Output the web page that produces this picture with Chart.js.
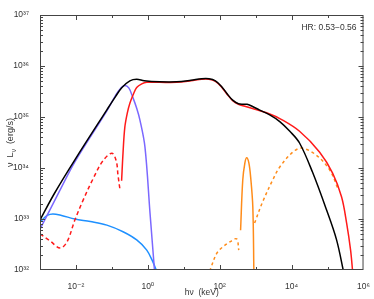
<!DOCTYPE html>
<html>
<head>
<meta charset="utf-8">
<script src="https://cdn.jsdelivr.net/npm/chart.js@4.4.0/dist/chart.umd.min.js"></script>
<style>
  html, body { margin: 0; padding: 0; background: #fff; }
  #wrap { width: 374px; height: 299px; position: relative; }
</style>
</head>
<body>
<div id="wrap"><canvas id="sedChart"></canvas></div>
<script>
// values: log10(h nu / keV) and log10(nu L_nu / erg s^-1)
var totalLogE = [-3.0, -2.6, -2.03, -1.14, -0.9, -0.72, -0.5, -0.31, -0.1, 0.33, 0.8, 1.2, 1.5, 1.7, 1.88, 2.05, 2.2, 2.36, 2.52, 2.65, 2.76, 2.9, 3.1, 3.39, 3.67, 3.95, 4.22, 4.58, 4.97, 5.25, 5.45];
var totalLogL = [32.98, 33.5, 34.16, 35.14, 35.4, 35.58, 35.71, 35.74, 35.71, 35.69, 35.69, 35.72, 35.75, 35.75, 35.71, 35.6, 35.46, 35.33, 35.26, 35.25, 35.25, 35.21, 35.14, 35.04, 34.91, 34.72, 34.49, 33.92, 33.18, 32.59, 31.95];

var reflLogE = [-0.73, -0.69, -0.64, -0.57, -0.5, -0.4, -0.31, -0.17, -0.03, 0.33, 0.8, 1.2, 1.5, 1.7, 1.88, 2.05, 2.2, 2.36, 2.52, 2.7, 3.03, 3.39, 3.67, 4.22, 4.78, 5.14, 5.39, 5.53, 5.64, 5.7];
var reflLogL = [33.75, 34.3, 34.8, 35.08, 35.27, 35.45, 35.58, 35.65, 35.68, 35.68, 35.68, 35.71, 35.74, 35.74, 35.7, 35.59, 35.45, 35.32, 35.25, 35.21, 35.14, 35.06, 34.97, 34.72, 34.31, 33.9, 33.43, 32.92, 32.39, 31.95];

var reflLowLogE = [-3.0, -2.72, -2.44, -2.25, -2.03, -1.8, -1.53, -1.25, -1.0, -0.88, -0.83, -0.78];
var reflLowLogL = [32.71, 32.57, 32.43, 32.55, 32.98, 33.37, 33.78, 34.14, 34.29, 34.14, 33.86, 33.6];

var diskLogE = [-3.0, -2.44, -2.03, -1.14, -0.9, -0.75, -0.64, -0.53, -0.42, -0.31, -0.22, -0.08, 0.06, 0.19];
var diskLogL = [32.8, 33.57, 34.12, 35.12, 35.42, 35.57, 35.62, 35.57, 35.39, 35.17, 34.94, 34.41, 33.12, 31.95];

var hostLogE = [-3.0, -2.8, -2.64, -2.4, -2.03, -1.6, -1.14, -0.69, -0.31, -0.03, 0.14, 0.25];
var hostLogL = [32.94, 33.07, 33.1, 33.07, 33.0, 32.95, 32.88, 32.75, 32.59, 32.39, 32.16, 31.97];

var jetLowLogE = [1.72, 1.92, 2.08, 2.28, 2.47, 2.53];
var jetLowLogL = [31.98, 32.33, 32.45, 32.55, 32.61, 32.39];

var lineLogE = [2.58, 2.64, 2.7, 2.75, 2.81, 2.86, 2.92, 2.95];
var lineLogL = [32.78, 33.76, 34.1, 34.2, 34.1, 33.82, 33.24, 31.95];

var jetHighLogE = [2.97, 3.19, 3.47, 3.67, 4.03, 4.28, 4.69, 5.06, 5.28];
var jetHighLogL = [32.92, 33.33, 33.76, 34.02, 34.31, 34.39, 34.25, 33.96, 33.61];

var xDecades = [-3, -2, -1, 0, 1, 2, 3, 4, 5, 6];
var yDecades = [32, 33, 34, 35, 36, 37];
var hrLabel = 'HR: 0.53\u22120.56';

function toPoints(logE, logL) {
  return logE.map(function (e, i) {
    return { x: Math.pow(10, e), y: Math.pow(10, logL[i]) };
  });
}

function sup(n) {
  var map = { '-': '\u207B', '0': '\u2070', '1': '\u00B9', '2': '\u00B2', '3': '\u00B3', '4': '\u2074',
              '5': '\u2075', '6': '\u2076', '7': '\u2077', '8': '\u2078', '9': '\u2079' };
  return String(n).split('').map(function (c) { return map[c]; }).join('');
}

var FONT = "'Liberation Sans', 'DejaVu Sans', sans-serif";
var INK = '#333333';

function line(data, color, dash) {
  return {
    data: data,
    borderColor: color,
    borderWidth: 1.5,
    borderDash: dash || [],
    pointRadius: 0,
    tension: 0.35,
    fill: false
  };
}

// box, inward ticks and texts like the IDL-style frame
var framePlugin = {
  id: 'frame',
  afterDatasetsDraw: function (chart) {
    var ctx = chart.ctx, a = chart.chartArea;
    var xs = chart.scales.x, ys = chart.scales.y;
    ctx.save();
    ctx.strokeStyle = '#444444';
    ctx.lineWidth = 1;
    ctx.strokeRect(a.left + 0.5, a.top + 0.5, a.right - a.left - 1, a.bottom - a.top - 1);

    ctx.beginPath();
    xDecades.forEach(function (e) {
      if (e <= xDecades[0] || e >= xDecades[xDecades.length - 1]) return;
      var px = Math.round(xs.getPixelForValue(Math.pow(10, e))) + 0.5;
      var len = (e % 2 === 0) ? 5 : 3;
      ctx.moveTo(px, a.bottom); ctx.lineTo(px, a.bottom - len);
      ctx.moveTo(px, a.top); ctx.lineTo(px, a.top + len);
    });
    yDecades.slice(0, -1).forEach(function (n) {
      for (var k = 1; k <= 9; k++) {
        if (k === 1 && n === yDecades[0]) continue;
        var py = Math.round(ys.getPixelForValue(k * Math.pow(10, n))) + 0.5;
        var len = (k === 1) ? 5 : 3;
        ctx.moveTo(a.left, py); ctx.lineTo(a.left + len, py);
        ctx.moveTo(a.right, py); ctx.lineTo(a.right - len, py);
      }
    });
    ctx.stroke();

    ctx.fillStyle = INK;
    // HR label
    ctx.font = '8.5px ' + FONT;
    ctx.textAlign = 'right';
    ctx.textBaseline = 'middle';
    ctx.fillText(hrLabel, a.right - 7, a.top + 13);

    // x title
    ctx.textAlign = 'center';
    ctx.font = '8.5px ' + FONT;
    ctx.fillText('h\u03BD  (keV)', (a.left + a.right) / 2, 293);

    // y title with subscript nu
    ctx.translate(11, (a.top + a.bottom) / 2);
    ctx.rotate(-Math.PI / 2);
    var big = '9px ' + FONT, small = '6.5px ' + FONT;
    var p1 = '\u03BD  L', p2 = '\u03BD', p3 = '  (erg/s)';
    ctx.font = big; var w1 = ctx.measureText(p1).width, w3 = ctx.measureText(p3).width;
    ctx.font = small; var w2 = ctx.measureText(p2).width;
    var x0 = -(w1 + w2 + w3) / 2;
    ctx.textAlign = 'left';
    ctx.font = big; ctx.fillText(p1, x0, 0);
    ctx.font = small; ctx.fillText(p2, x0 + w1, 3);
    ctx.font = big; ctx.fillText(p3, x0 + w1 + w2, 0);
    ctx.restore();
  }
};

var ctx = document.getElementById('sedChart').getContext('2d');
var chart = new Chart(ctx, {
  type: 'line',
  data: {
    datasets: [
      line(toPoints(totalLogE, totalLogL), '#000000'),
      line(toPoints(reflLogE, reflLogL), '#ff1a1a'),
      line(toPoints(reflLowLogE, reflLowLogL), '#ff1a1a', [4, 3]),
      line(toPoints(diskLogE, diskLogL), '#7b68ff'),
      line(toPoints(hostLogE, hostLogL), '#1e90ff'),
      line(toPoints(jetLowLogE, jetLowLogL), '#ff8c1a', [3, 3]),
      line(toPoints(lineLogE, lineLogL), '#ff8c1a'),
      line(toPoints(jetHighLogE, jetHighLogL), '#ff8c1a', [3, 3])
    ]
  },
  options: {
    responsive: true,
    maintainAspectRatio: false,
    animation: false,
    layout: { padding: { top: 15, right: 10, left: 0, bottom: 0 } },
    plugins: {
      legend: { display: false },
      tooltip: { enabled: false }
    },
    scales: {
      x: {
        type: 'logarithmic',
        min: 1e-3,
        max: 1e6,
        grid: { display: false },
        border: { display: false },
        afterBuildTicks: function (scale) {
          scale.ticks = xDecades.map(function (e) { return { value: Math.pow(10, e) }; });
        },
        afterFit: function (scale) { scale.height = 29; },
        ticks: {
          autoSkip: false,
          maxRotation: 0,
          padding: 4,
          color: INK,
          font: { size: 8.5, family: FONT },
          callback: function (value) {
            var e = Math.round(Math.log10(value));
            return (e % 2 === 0) ? '10' + sup(e) : '';
          }
        }
      },
      y: {
        type: 'logarithmic',
        min: 1e32,
        max: 1e37,
        grid: { display: false },
        border: { display: false },
        afterBuildTicks: function (scale) {
          scale.ticks = yDecades.map(function (n) { return { value: Math.pow(10, n) }; });
        },
        afterFit: function (scale) { scale.width = 40; },
        ticks: {
          autoSkip: false,
          padding: 3,
          color: INK,
          font: { size: 8.5, family: FONT },
          callback: function (value) {
            return '10' + sup(Math.round(Math.log10(value)));
          }
        }
      }
    }
  },
  plugins: [framePlugin]
});
</script>
</body>
</html>
